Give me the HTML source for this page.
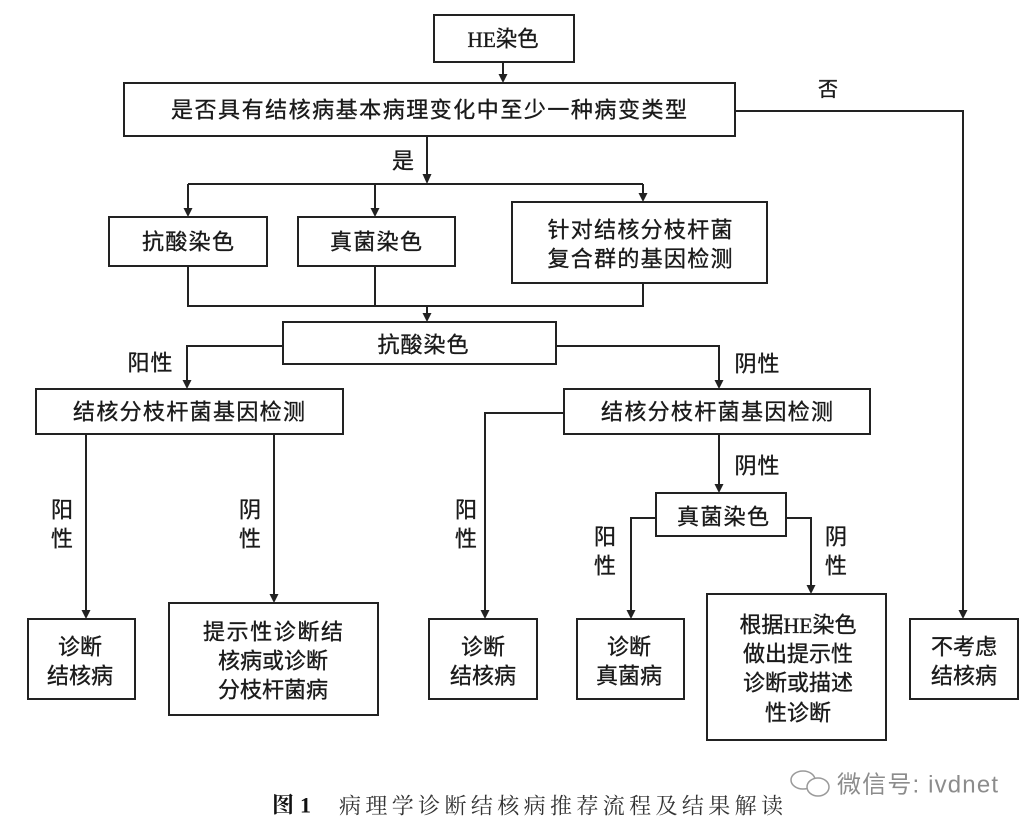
<!DOCTYPE html>
<html><head><meta charset="utf-8"><style>
html,body{margin:0;padding:0;background:#fff;}
svg{display:block;}
.t{font-family:"Liberation Sans","Noto Sans CJK SC",sans-serif;font-size:22px;fill:#1a1a1a;stroke:#1a1a1a;stroke-width:0.35px;}
.s{font-family:"Liberation Serif","Noto Serif CJK SC",serif;}
</style></head><body>
<svg width="1032" height="829" viewBox="0 0 1032 829" xmlns="http://www.w3.org/2000/svg">
<g fill="none" stroke="#222" stroke-width="2">
<rect x="434" y="15" width="140" height="47"/>
<rect x="124" y="83" width="611" height="53"/>
<rect x="109" y="217" width="158" height="49"/>
<rect x="298" y="217" width="157" height="49"/>
<rect x="512" y="202" width="255" height="81"/>
<rect x="283" y="322" width="273" height="42"/>
<rect x="36" y="389" width="307" height="45"/>
<rect x="564" y="389" width="306" height="45"/>
<rect x="656" y="493" width="130" height="43"/>
<rect x="28" y="619" width="107" height="80"/>
<rect x="169" y="603" width="209" height="112"/>
<rect x="429" y="619" width="108" height="80"/>
<rect x="577" y="619" width="107" height="80"/>
<rect x="707" y="594" width="179" height="146"/>
<rect x="910" y="619" width="108" height="80"/>
<path d="M503 62V76"/>
<path d="M427 136V176"/>
<path d="M188 184H643"/>
<path d="M188 184V210M375 184V210M643 184V195"/>
<path d="M188 266V306M375 266V306M643 283V306M187 306H644"/>
<path d="M427 306V315"/>
<path d="M283 346H187V382"/>
<path d="M556 346H719V382"/>
<path d="M86 434V612M274 434V596"/>
<path d="M564 413H485V612"/>
<path d="M719 434V486"/>
<path d="M656 518H631V612"/>
<path d="M786 518H811V587"/>
<path d="M735 111H963V612"/>
</g>
<g fill="#222">
<path d="M498.5 74L507.5 74L503 83Z"/>
<path d="M422.5 174L431.5 174L427 184Z"/>
<path d="M183.5 208L192.5 208L188 217Z"/>
<path d="M370.5 208L379.5 208L375 217Z"/>
<path d="M638.5 193L647.5 193L643 202Z"/>
<path d="M422.5 313L431.5 313L427 322Z"/>
<path d="M182.5 380L191.5 380L187 389Z"/>
<path d="M714.5 380L723.5 380L719 389Z"/>
<path d="M81.5 610L90.5 610L86 619Z"/>
<path d="M269.5 594L278.5 594L274 603Z"/>
<path d="M480.5 610L489.5 610L485 619Z"/>
<path d="M714.5 484L723.5 484L719 493Z"/>
<path d="M626.5 610L635.5 610L631 619Z"/>
<path d="M806.5 585L815.5 585L811 594Z"/>
<path d="M958.5 610L967.5 610L963 619Z"/>
</g>
<g class="t" text-anchor="middle" dominant-baseline="central">
<text x="503" y="39" textLength="71" lengthAdjust="spacingAndGlyphs"><tspan class="s">HE</tspan>染色</text>
<text x="429" y="110" textLength="516" lengthAdjust="spacing">是否具有结核病基本病理变化中至少一种病变类型</text>
<text x="403" y="161">是</text>
<text x="828" y="90" style="font-size:20px">否</text>
<text x="188" y="242" textLength="92" lengthAdjust="spacing">抗酸染色</text>
<text x="376" y="242" textLength="92" lengthAdjust="spacing">真菌染色</text>
<text x="640" y="230" textLength="185" lengthAdjust="spacing">针对结核分枝杆菌</text>
<text x="640" y="259" textLength="185" lengthAdjust="spacing">复合群的基因检测</text>
<text x="423" y="345" textLength="91" lengthAdjust="spacing">抗酸染色</text>
<text x="150" y="363" textLength="45" lengthAdjust="spacing">阳性</text>
<text x="757" y="364" textLength="45" lengthAdjust="spacing">阴性</text>
<text x="189" y="412" textLength="232" lengthAdjust="spacing">结核分枝杆菌基因检测</text>
<text x="717" y="412" textLength="232" lengthAdjust="spacing">结核分枝杆菌基因检测</text>
<text x="757" y="466" textLength="45" lengthAdjust="spacing">阴性</text>
<text x="723" y="517" textLength="92" lengthAdjust="spacing">真菌染色</text>
<text x="62" y="510">阳</text><text x="62" y="539">性</text>
<text x="250" y="510">阴</text><text x="250" y="539">性</text>
<text x="466" y="510">阳</text><text x="466" y="539">性</text>
<text x="605" y="537">阳</text><text x="605" y="566">性</text>
<text x="836" y="537">阴</text><text x="836" y="566">性</text>
<text x="80" y="647">诊断</text>
<text x="80" y="676">结核病</text>
<text x="273" y="632" textLength="140" lengthAdjust="spacing">提示性诊断结</text>
<text x="273" y="661">核病或诊断</text>
<text x="273" y="690">分枝杆菌病</text>
<text x="483" y="647">诊断</text>
<text x="483" y="676">结核病</text>
<text x="629" y="647">诊断</text>
<text x="629" y="676">真菌病</text>
<text x="798" y="625" textLength="117" lengthAdjust="spacing">根据<tspan class="s">HE</tspan>染色</text>
<text x="798" y="654">做出提示性</text>
<text x="798" y="683">诊断或描述</text>
<text x="798" y="713">性诊断</text>
<text x="964" y="647">不考虑</text>
<text x="964" y="676">结核病</text>
</g>
<g dominant-baseline="central">
<text x="272" y="805" style="font-family:'Liberation Serif','Noto Serif CJK SC',serif;font-size:22px;font-weight:bold;fill:#111" textLength="39" lengthAdjust="spacing">图 1</text>
<text x="339" y="806" style="font-family:'Liberation Serif','Noto Serif CJK SC',serif;font-size:22px;fill:#333" textLength="444" lengthAdjust="spacing">病理学诊断结核病推荐流程及结果解读</text>
<text x="837" y="785" style="font-family:'Liberation Sans','Noto Sans CJK SC',sans-serif;font-size:24px;fill:#8c8c8c" textLength="161" lengthAdjust="spacing">微信号: ivdnet</text>
</g>
<g fill="none" stroke="#9a9a9a" stroke-width="1.5">
<ellipse cx="803" cy="780" rx="12" ry="9"/>
<ellipse cx="818" cy="787" rx="11" ry="9" fill="#fff"/>
</g>
</svg>
</body></html>
